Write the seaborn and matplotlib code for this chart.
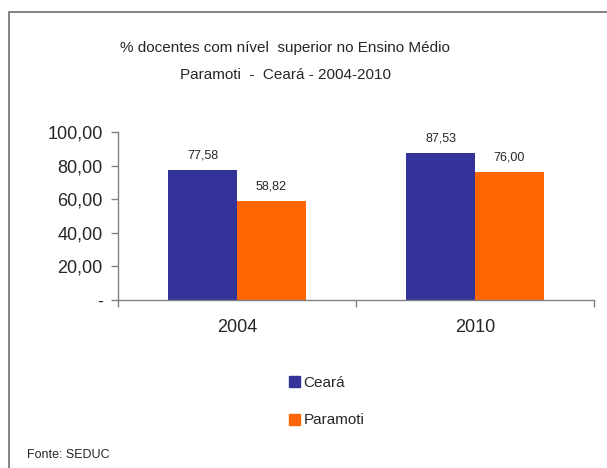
import matplotlib
matplotlib.use("Agg")
import matplotlib.pyplot as plt
import matplotlib.patches as mpatches
import seaborn as sns
import pandas as pd

years = ["2004", "2010"]
ceara = [77.58, 87.53]
paramoti = [58.82, 76.00]
series = ["Ceará", "Paramoti"]
colors = ["#333399", "#FF6600"]
yticks = [0, 20, 40, 60, 80, 100]

df = pd.DataFrame({
    "Ano": years * 2,
    "Valor": ceara + paramoti,
    "Série": [series[0]] * len(years) + [series[1]] * len(years),
})

sns.set_style("white")
plt.rcParams["font.family"] = ["Liberation Sans", "DejaVu Sans"]

fig = plt.figure(figsize=(6.07, 4.68), dpi=100)
ax = fig.add_axes([118 / 607, 1 - 300 / 468, (594 - 118) / 607, (300 - 132) / 468])

sns.barplot(data=df, x="Ano", y="Valor", hue="Série", palette=colors,
            width=0.576, gap=0, ax=ax, legend=False, saturation=1, linewidth=0)

ax.set_xlim(-0.5, 1.5)
ax.set_ylim(0, 100)
ax.set_yticks(yticks)
ax.set_yticklabels(["-" if v == 0 else f"{v:.2f}".replace(".", ",") for v in yticks], fontsize=13)
ax.set_xticks([0, 1])
ax.set_xticklabels(years, fontsize=13)
ax.tick_params(axis="x", length=0, pad=14)
ax.tick_params(axis="y", length=5, width=1, color="#808080", left=True, pad=6)
ax.set_xticks([-0.5, 0.5, 1.5], minor=True)
ax.tick_params(axis="x", which="minor", length=5, width=1, color="#808080", bottom=True)
ax.set_xlabel("")
ax.set_ylabel("")
for s in ["top", "right"]:
    ax.spines[s].set_visible(False)
for s in ["left", "bottom"]:
    ax.spines[s].set_color("#808080")
    ax.spines[s].set_linewidth(1)

for cont in ax.containers:
    ax.bar_label(cont, labels=[f"{b.get_height():.2f}".replace(".", ",") for b in cont],
                 fontsize=9, padding=6)

fig.text(285 / 607, 1 - 48 / 468, "% docentes com nível  superior no Ensino Médio",
         ha="center", va="center", fontsize=11)
fig.text(285 / 607, 1 - 75 / 468, "Paramoti  -  Ceará - 2004-2010",
         ha="center", va="center", fontsize=11)

handles = [mpatches.Patch(color=c, label=l) for c, l in zip(colors, series)]
fig.legend(handles=handles, loc="upper left", bbox_to_anchor=(275 / 607, 1 - 362 / 468),
           frameon=False, fontsize=11, handlelength=0.75, handleheight=0.75,
           handletextpad=0.2, labelspacing=1.55)

fig.text(27 / 607, 1 - 455 / 468, "Fonte: SEDUC", ha="left", va="center", fontsize=9)

border = mpatches.Rectangle((9 / 607, -0.1), 1.2, 1 - 12 / 468 + 0.1,
                            transform=fig.transFigure, fill=False,
                            edgecolor="#6e6e6e", linewidth=1.2, clip_on=False)
fig.patches.append(border)

fig.savefig("out.png", dpi=100)
